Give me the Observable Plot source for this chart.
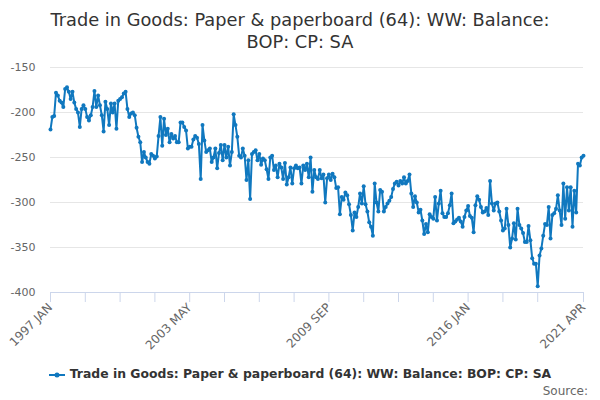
<!DOCTYPE html>
<html><head><meta charset="utf-8">
<script src="https://cdn.jsdelivr.net/npm/d3@7"></script>
<script src="https://cdn.jsdelivr.net/npm/@observablehq/plot@0.6"></script>
<style>
body{margin:0;width:600px;height:400px;overflow:hidden;background:#fff;font-family:"DejaVu Sans",sans-serif}
#title{box-sizing:border-box;height:56px;padding-top:9px;text-align:center;font-size:17.8px;line-height:22px;color:#333;white-space:nowrap}
#chart svg{display:block}
#legend{margin-top:9px;height:17px;text-align:center;font-size:12.4px;font-weight:bold;line-height:17px;color:#333;white-space:nowrap}
#legend svg{vertical-align:middle;margin-right:5px}
#source{height:14px;margin-top:2px;text-align:right;padding-right:12px;font-size:12px;line-height:14px;color:#666}
</style></head><body>
<div id="title">Trade in Goods: Paper &amp; paperboard (64): WW: Balance:<br>BOP: CP: SA</div>
<div id="chart"></div>
<div id="legend"><svg width="16" height="10"><line x1="0" x2="16" y1="5" y2="5" stroke="#1078bf" stroke-width="2"/><circle cx="8" cy="5" r="2.5" fill="#1078bf"/></svg><span id="legtext"></span></div>
<div id="source">Source:</div>
<script>
const seriesName = "Trade in Goods: Paper & paperboard (64): WW: Balance: BOP: CP: SA";
const startYear = 1997;
const monthNames = ["JAN","FEB","MAR","APR","MAY","JUN","JUL","AUG","SEP","OCT","NOV","DEC"];
const tickLabels = ["1997 JAN","2003 MAY","2009 SEP","2016 JAN","2021 APR"];
const yTicks = [-400,-350,-300,-250,-200,-150];
const balance = [
-219,-205,-204,-178,-181,-187,-189,-194,-174,-172,-177,-185,
-177,-189,-196,-200,-216,-196,-192,-196,-205,-209,-203,-194,
-176,-194,-181,-192,-203,-221,-188,-196,-214,-190,-200,-190,
-218,-187,-185,-183,-179,-177,-196,-205,-201,-200,-203,-217,
-227,-233,-255,-244,-250,-255,-257,-246,-248,-251,-249,-226,
-205,-237,-207,-225,-218,-233,-224,-229,-226,-233,-233,-211,
-211,-216,-220,-240,-238,-238,-230,-226,-228,-235,-274,-214,
-231,-244,-242,-240,-255,-250,-240,-262,-245,-236,-253,-236,
-250,-238,-259,-244,-202,-214,-227,-248,-250,-240,-248,-275,
-253,-296,-246,-244,-242,-253,-246,-258,-251,-253,-263,-274,
-250,-248,-264,-259,-272,-257,-261,-274,-256,-280,-272,-261,
-279,-262,-259,-262,-261,-279,-259,-264,-257,-272,-250,-288,
-264,-272,-274,-264,-273,-269,-300,-273,-269,-275,-268,-272,
-284,-283,-313,-294,-297,-289,-292,-302,-314,-331,-311,-316,
-305,-290,-301,-282,-302,-310,-322,-327,-337,-279,-300,-310,
-286,-288,-310,-305,-301,-298,-294,-285,-279,-277,-281,-276,
-279,-272,-279,-276,-269,-290,-305,-293,-300,-311,-308,-320,
-335,-324,-333,-313,-316,-318,-294,-320,-301,-287,-312,-316,
-316,-312,-303,-290,-323,-321,-319,-317,-321,-327,-316,-309,
-304,-315,-317,-333,-303,-293,-297,-305,-311,-310,-306,-314,
-276,-301,-309,-301,-300,-310,-320,-331,-329,-307,-325,-350,
-340,-323,-341,-307,-325,-329,-334,-344,-344,-326,-342,-362,
-368,-368,-393,-359,-351,-337,-324,-325,-305,-340,-314,-312,
-307,-292,-309,-325,-279,-318,-283,-309,-283,-327,-287,-311,
-257,-259,-250,-248
];
const months = balance.map((_, i) => `${startYear + Math.floor(i / 12)} ${monthNames[i % 12]}`);
const data = balance.map((v, i) => ({i, month: months[i], v}));
const tickIdx = [];
for (let i = 0; i <= 266; i += 19) tickIdx.push(i);
tickIdx.push(balance.length - 1);
const blue = "#1078bf";
document.getElementById("legtext").textContent = seriesName;
const chart = Plot.plot({
  width: 600, height: 300,
  marginLeft: 50, marginRight: 17, marginTop: 11, marginBottom: 64,
  style: {fontFamily: "'DejaVu Sans', sans-serif", fontSize: "11px", color: "#666", background: "#fff", overflow: "visible"},
  x: {type: "linear", domain: [0, balance.length - 1]},
  y: {domain: [-400, -150]},
  marks: [
    Plot.gridY(yTicks.slice(1), {stroke: "#e6e6e6", strokeOpacity: 1}),
    Plot.ruleY([-400], {stroke: "#ccd6eb"}),
    Plot.axisY(yTicks, {tickSize: 0, tickPadding: 15, fill: "#666", fontSize: 11, label: null, tickFormat: d => String(d)}),
    Plot.axisX(tickIdx, {tickSize: 10, stroke: "#ccd6eb", strokeOpacity: 1, fill: "#666", tickRotate: -45, tickPadding: 3, fontSize: 12, label: null,
      tickFormat: i => tickLabels.includes(months[i]) ? months[i] : ""}),
    Plot.line(data, {x: "i", y: "v", stroke: blue, strokeWidth: 2}),
    Plot.dot(data, {x: "i", y: "v", r: 2, fill: blue})
  ]
});
document.getElementById("chart").appendChild(chart);
</script>
</body></html>
